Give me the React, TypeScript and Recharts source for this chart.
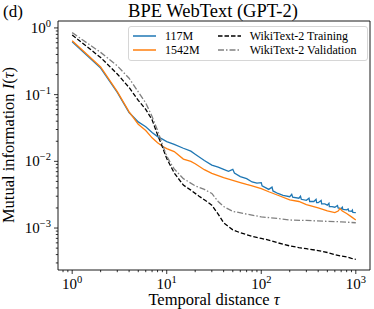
import { LineChart, Line, XAxis, YAxis, ReferenceArea } from "recharts"

const FONT = "'Liberation Serif', 'Times New Roman', serif"

// 117M (blue)
const tau117 = [1, 2, 3, 4, 5, 6, 7, 8, 9, 10, 12, 15, 18, 20, 25, 30, 35, 40, 45, 50, 52, 60, 70, 80, 90, 100, 102, 120, 130, 133, 150, 170, 200, 210, 215, 250, 260, 265, 300, 320, 325, 360, 380, 385, 400, 430, 435, 470, 500, 520, 525, 560, 600, 640, 650, 700, 720, 730, 800, 830, 840, 900, 920, 930, 1000]
const mi117 = [0.62, 0.25, 0.108, 0.054, 0.039, 0.033, 0.027, 0.0235, 0.0215, 0.0198, 0.018, 0.0157, 0.0142, 0.0128, 0.0103, 0.0088, 0.0082, 0.0076, 0.0071, 0.0076, 0.0067, 0.0059, 0.0055, 0.0049, 0.0047, 0.0048, 0.0043, 0.0038, 0.0041, 0.0036, 0.0033, 0.0031, 0.00295, 0.0032, 0.0029, 0.0028, 0.0030, 0.0027, 0.0026, 0.0028, 0.0025, 0.0025, 0.0027, 0.0024, 0.0024, 0.0026, 0.0023, 0.0023, 0.0022, 0.00235, 0.0021, 0.0021, 0.00205, 0.00218, 0.002, 0.00195, 0.00205, 0.0019, 0.00187, 0.00193, 0.0018, 0.00178, 0.00186, 0.00172, 0.0017]

// 1542M (orange)
const tau1542 = [1, 2, 3, 4, 5, 6, 7, 8, 9, 10, 12, 15, 18, 20, 25, 30, 40, 50, 60, 70, 80, 100, 120, 150, 200, 250, 300, 400, 500, 600, 650, 680, 720, 800, 900, 1000]
const mi1542 = [0.64, 0.26, 0.111, 0.055, 0.036, 0.029, 0.0225, 0.019, 0.0168, 0.0155, 0.014, 0.0108, 0.01, 0.0092, 0.0075, 0.0066, 0.0057, 0.0052, 0.0048, 0.0045, 0.0043, 0.0039, 0.0035, 0.0031, 0.00265, 0.0025, 0.00225, 0.002, 0.00181, 0.0017, 0.0018, 0.00196, 0.0018, 0.00165, 0.00147, 0.00132]

// WikiText-2 training (black dashed)
const tauTrain = [1, 2, 3, 4, 5, 6, 7, 8, 9, 10, 12, 15, 18, 22, 27, 30, 35, 40, 50, 60, 80, 100, 120, 150, 200, 250, 300, 400, 500, 600, 700, 800, 900, 1000]
const miTrain = [0.785, 0.36, 0.204, 0.128, 0.082, 0.06, 0.042, 0.025, 0.0165, 0.011, 0.0067, 0.0044, 0.0037, 0.003, 0.00246, 0.0022, 0.00162, 0.0012, 0.00094, 0.00085, 0.00075, 0.0007, 0.00066, 0.0006, 0.00054, 0.00051, 0.00049, 0.00046, 0.00043, 0.0004, 0.00038, 0.00037, 0.00035, 0.00034]

// WikiText-2 validation (grey dash-dot)
const tauVal = [1, 2, 3, 4, 5, 6, 7, 8, 9, 10, 11, 12, 15, 20, 25, 30, 35, 40, 50, 70, 100, 150, 200, 300, 500, 700, 1000]
const miVal = [0.85, 0.43, 0.27, 0.176, 0.11, 0.075, 0.047, 0.029, 0.018, 0.012, 0.0094, 0.0077, 0.0055, 0.0043, 0.0038, 0.0033, 0.0025, 0.0021, 0.00178, 0.00162, 0.00147, 0.00139, 0.00132, 0.0013, 0.00126, 0.00124, 0.0012]

const xMajor = [1, 10, 100, 1000]
const xMinor = [0.8, 0.9, 2, 3, 4, 5, 6, 7, 8, 9, 20, 30, 40, 50, 60, 70, 80, 90, 200, 300, 400, 500, 600, 700, 800, 900]
const yMajor = [0.001, 0.01, 0.1, 1]
const yMinor = [0.0003, 0.0004, 0.0005, 0.0006, 0.0007, 0.0008, 0.0009, 0.002, 0.003, 0.004, 0.005, 0.006, 0.007, 0.008, 0.009, 0.02, 0.03, 0.04, 0.05, 0.06, 0.07, 0.08, 0.09, 0.2, 0.3, 0.4, 0.5, 0.6, 0.7, 0.8, 0.9]

const X_DOMAIN = [0.708, 1413]
const Y_DOMAIN = [0.000235, 1.27]

const zip = (xs: number[], ys: number[]) => xs.map((t, i) => ({ tau: t, mi: ys[i] }))

const series = [
  { name: "117M", data: zip(tau117, mi117), color: "#1f77b4", dash: undefined },
  { name: "1542M", data: zip(tau1542, mi1542), color: "#ff7f0e", dash: undefined },
  { name: "WikiText-2 Training", data: zip(tauTrain, miTrain), color: "#000000", dash: "4.5 2" },
  { name: "WikiText-2 Validation", data: zip(tauVal, miVal), color: "#808080", dash: "6 2 1.5 2" },
]

const expText = (v: number) => {
  const e = Math.round(Math.log10(v))
  return e < 0 ? "\u2212" + Math.abs(e) : String(e)
}
const isMajor = (v: number) => {
  const lg = Math.log10(v)
  return Math.abs(lg - Math.round(lg)) < 1e-9
}

function XTick(props: any) {
  const { x, y, payload } = props
  const major = isMajor(payload.value)
  return (
    <g>
      <line x1={x} x2={x} y1={y} y2={y + (major ? 4 : 2.2)} stroke="#000" strokeWidth={0.8} />
      {major && (
        <text x={x} y={y + 18.5} textAnchor="middle" fontSize={15} fontFamily={FONT} fill="#000">
          10
          <tspan dy={-6} fontSize={10.5}>
            {expText(payload.value)}
          </tspan>
        </text>
      )}
    </g>
  )
}

function YTick(props: any) {
  const { x, y, payload } = props
  const major = isMajor(payload.value)
  return (
    <g>
      <line x1={x} x2={x - (major ? 4 : 2.2)} y1={y} y2={y} stroke="#000" strokeWidth={0.8} />
      {major && (
        <text x={x - 7} y={y + 5} textAnchor="end" fontSize={15} fontFamily={FONT} fill="#000">
          10
          <tspan dy={-6} fontSize={10.5}>
            {expText(payload.value)}
          </tspan>
        </text>
      )}
    </g>
  )
}

function LegendBox() {
  const cols = [series.slice(0, 2), series.slice(2)]
  return (
    <div
      style={{
        position: "absolute",
        left: 128,
        top: 26,
        width: 238,
        height: 33,
        border: "1px solid #d6d6d6",
        borderRadius: 3,
        background: "rgba(255,255,255,0.8)",
        display: "flex",
        fontFamily: FONT,
        fontSize: 12,
        color: "#000",
      }}
    >
      {cols.map((col, ci) => (
        <div key={ci} style={{ display: "flex", flexDirection: "column", marginLeft: ci === 0 ? 4 : 18, marginTop: 2 }}>
          {col.map((s) => (
            <div key={s.name} style={{ display: "flex", alignItems: "center", height: 14 }}>
              <svg width={23} height={4} style={{ marginRight: 9 }}>
                <line x1={0} x2={23} y1={2} y2={2} stroke={s.color} strokeWidth={1.5} strokeDasharray={s.dash} />
              </svg>
              <span style={{ whiteSpace: "nowrap", lineHeight: "14px" }}>{s.name}</span>
            </div>
          ))}
        </div>
      ))}
    </div>
  )
}

export default function App() {
  return (
    <div style={{ position: "absolute", left: 0, top: 0, width: 374, height: 309, background: "#fff" }}>
      <LineChart width={374} height={309} margin={{ top: 21, right: 4, bottom: 0, left: 0 }}>
        <XAxis
          dataKey="tau"
          type="number"
          scale="log"
          domain={X_DOMAIN}
          allowDataOverflow
          ticks={[...xMajor, ...xMinor]}
          interval={0}
          tick={<XTick />}
          tickLine={false}
          axisLine={false}
          tickSize={0}
          tickMargin={0}
          height={39}
        />
        <YAxis
          dataKey="mi"
          type="number"
          scale="log"
          domain={Y_DOMAIN}
          allowDataOverflow
          ticks={[...yMajor, ...yMinor]}
          interval={0}
          tick={<YTick />}
          tickLine={false}
          axisLine={false}
          tickSize={0}
          tickMargin={0}
          width={58}
        />
        {series.map((s) => (
          <Line
            key={s.name}
            data={s.data}
            dataKey="mi"
            name={s.name}
            type="linear"
            stroke={s.color}
            strokeWidth={1.3}
            strokeDasharray={s.dash}
            dot={false}
            isAnimationActive={false}
          />
        ))}
        <ReferenceArea
          x1={X_DOMAIN[0]}
          x2={X_DOMAIN[1]}
          y1={Y_DOMAIN[0]}
          y2={Y_DOMAIN[1]}
          fill="none"
          stroke="#000"
          strokeWidth={0.9}
          ifOverflow="visible"
        />
      </LineChart>
      <LegendBox />
      <svg width={374} height={309} style={{ position: "absolute", left: 0, top: 0, pointerEvents: "none" }}>
        <text x={3} y={17} fontSize={17} fontFamily={FONT} fill="#000">
          (d)
        </text>
        <text x={213} y={17} textAnchor="middle" fontSize={18.5} fontFamily={FONT} fill="#000">
          BPE WebText (GPT-2)
        </text>
        <text x={214} y={305} textAnchor="middle" fontSize={16.5} fontFamily={FONT} fill="#000">
          Temporal distance <tspan fontStyle="italic">τ</tspan>
        </text>
        <text x={14} y={145} transform="rotate(-90 14 145)" textAnchor="middle" fontSize={16.5} fontFamily={FONT} fill="#000">
          Mutual information <tspan fontStyle="italic">I</tspan>(<tspan fontStyle="italic">τ</tspan>)
        </text>
      </svg>
    </div>
  )
}
